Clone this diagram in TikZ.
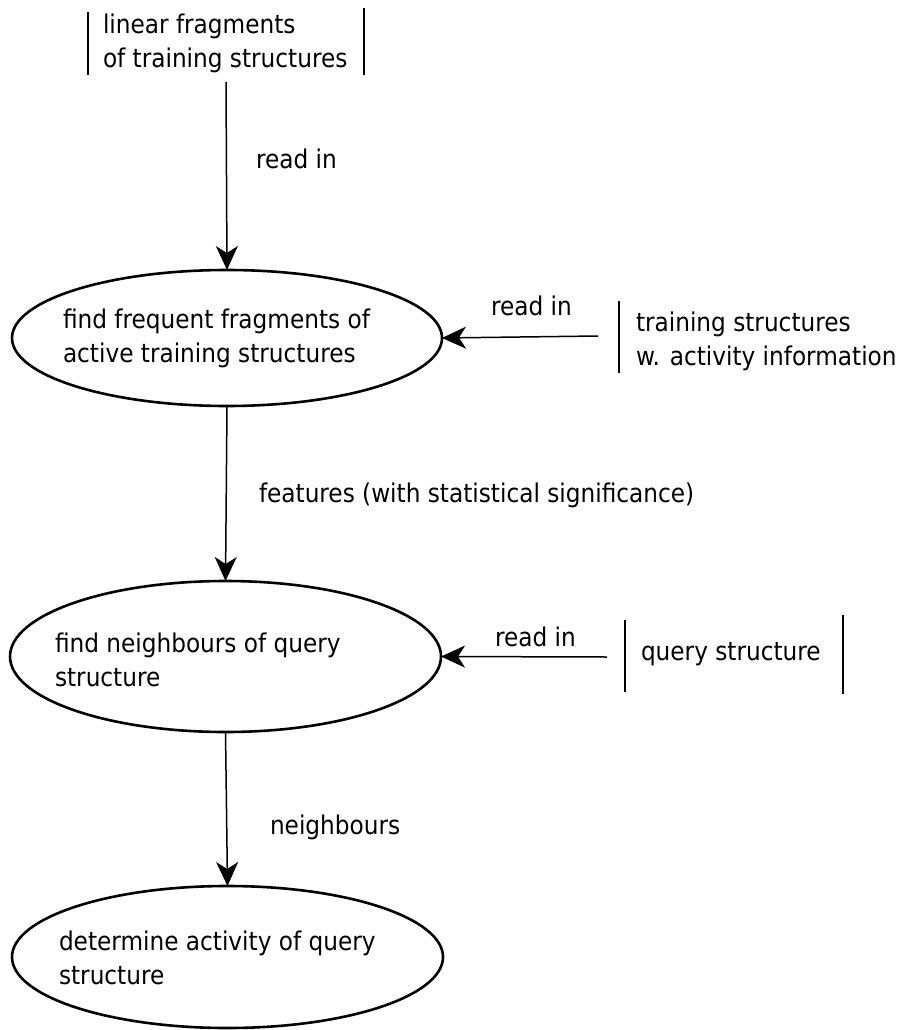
\documentclass[tikz,border=0pt]{standalone}
\usepackage{fontspec}
\setmainfont{DejaVu Sans Condensed}
\usetikzlibrary{shapes.geometric,arrows.meta}
\begin{document}
\begin{tikzpicture}[x=1pt,y=-1pt,
  proc/.style={draw,ellipse,line width=2.6pt,inner sep=0pt,outer sep=0pt},
  txt/.style={inner sep=0pt,outer sep=0pt,align=left,anchor=west,font=\fontsize{25.8}{34}\selectfont},
  flow/.style={line width=1.5pt,-{Stealth[length=24pt,width=22pt,inset=7pt]}},
  bar/.style={line width=1.5pt}]
\useasboundingbox (0,0) rectangle (902,1030);
% processes
\node[proc,minimum width=430pt,minimum height=136pt] (e1) at (227,338) {};
\node[proc,minimum width=431pt,minimum height=151pt] (e2) at (225.5,656.5) {};
\node[proc,minimum width=431pt,minimum height=142pt] (e3) at (227.5,957) {};
\node[txt] (t1) at (63,338.5) {find frequent fragments of\\active training structures};
\node[txt] (t2) at (55,659.5) {find neighbours of query\\structure};
\node[txt] (t3) at (59,957.5) {determine activity of query\\structure};
% data stores
\node[txt] (s1) at (103,43.5) {linear fragments\\of training structures};
\draw[bar] (88,12) -- (88,75);
\draw[bar] (364,8) -- (364,75);
\node[txt] (s2) at (636,341.5) {training structures\\w. activity information};
\draw[bar] (619,301) -- (619,373);
\node[txt] (s3) at (641,654) {query structure};
\draw[bar] (625,620) -- (625,692);
\draw[bar] (843,615) -- (843,694);
% connectors
\coordinate (c1) at (226,82);
\coordinate (c2) at (598,336);
\coordinate (c3) at (607,657);
\draw[flow] (c1) -- (e1.north);
\draw[flow] (c2) -- (e1.east);
\draw[flow] (e1.south) -- (e2.north);
\draw[flow] (c3) -- (e2.east);
\draw[flow] (e2.south) -- (e3.north);
% labels
\node[txt] (l1) at (256,159) {read in};
\node[txt] (l2) at (491,306) {read in};
\node[txt] (l3) at (259,495) {features (with statistical significance)};
\node[txt] (l4) at (495,637) {read in};
\node[txt] (l5) at (270,827) {neighbours};
\end{tikzpicture}
\end{document}
